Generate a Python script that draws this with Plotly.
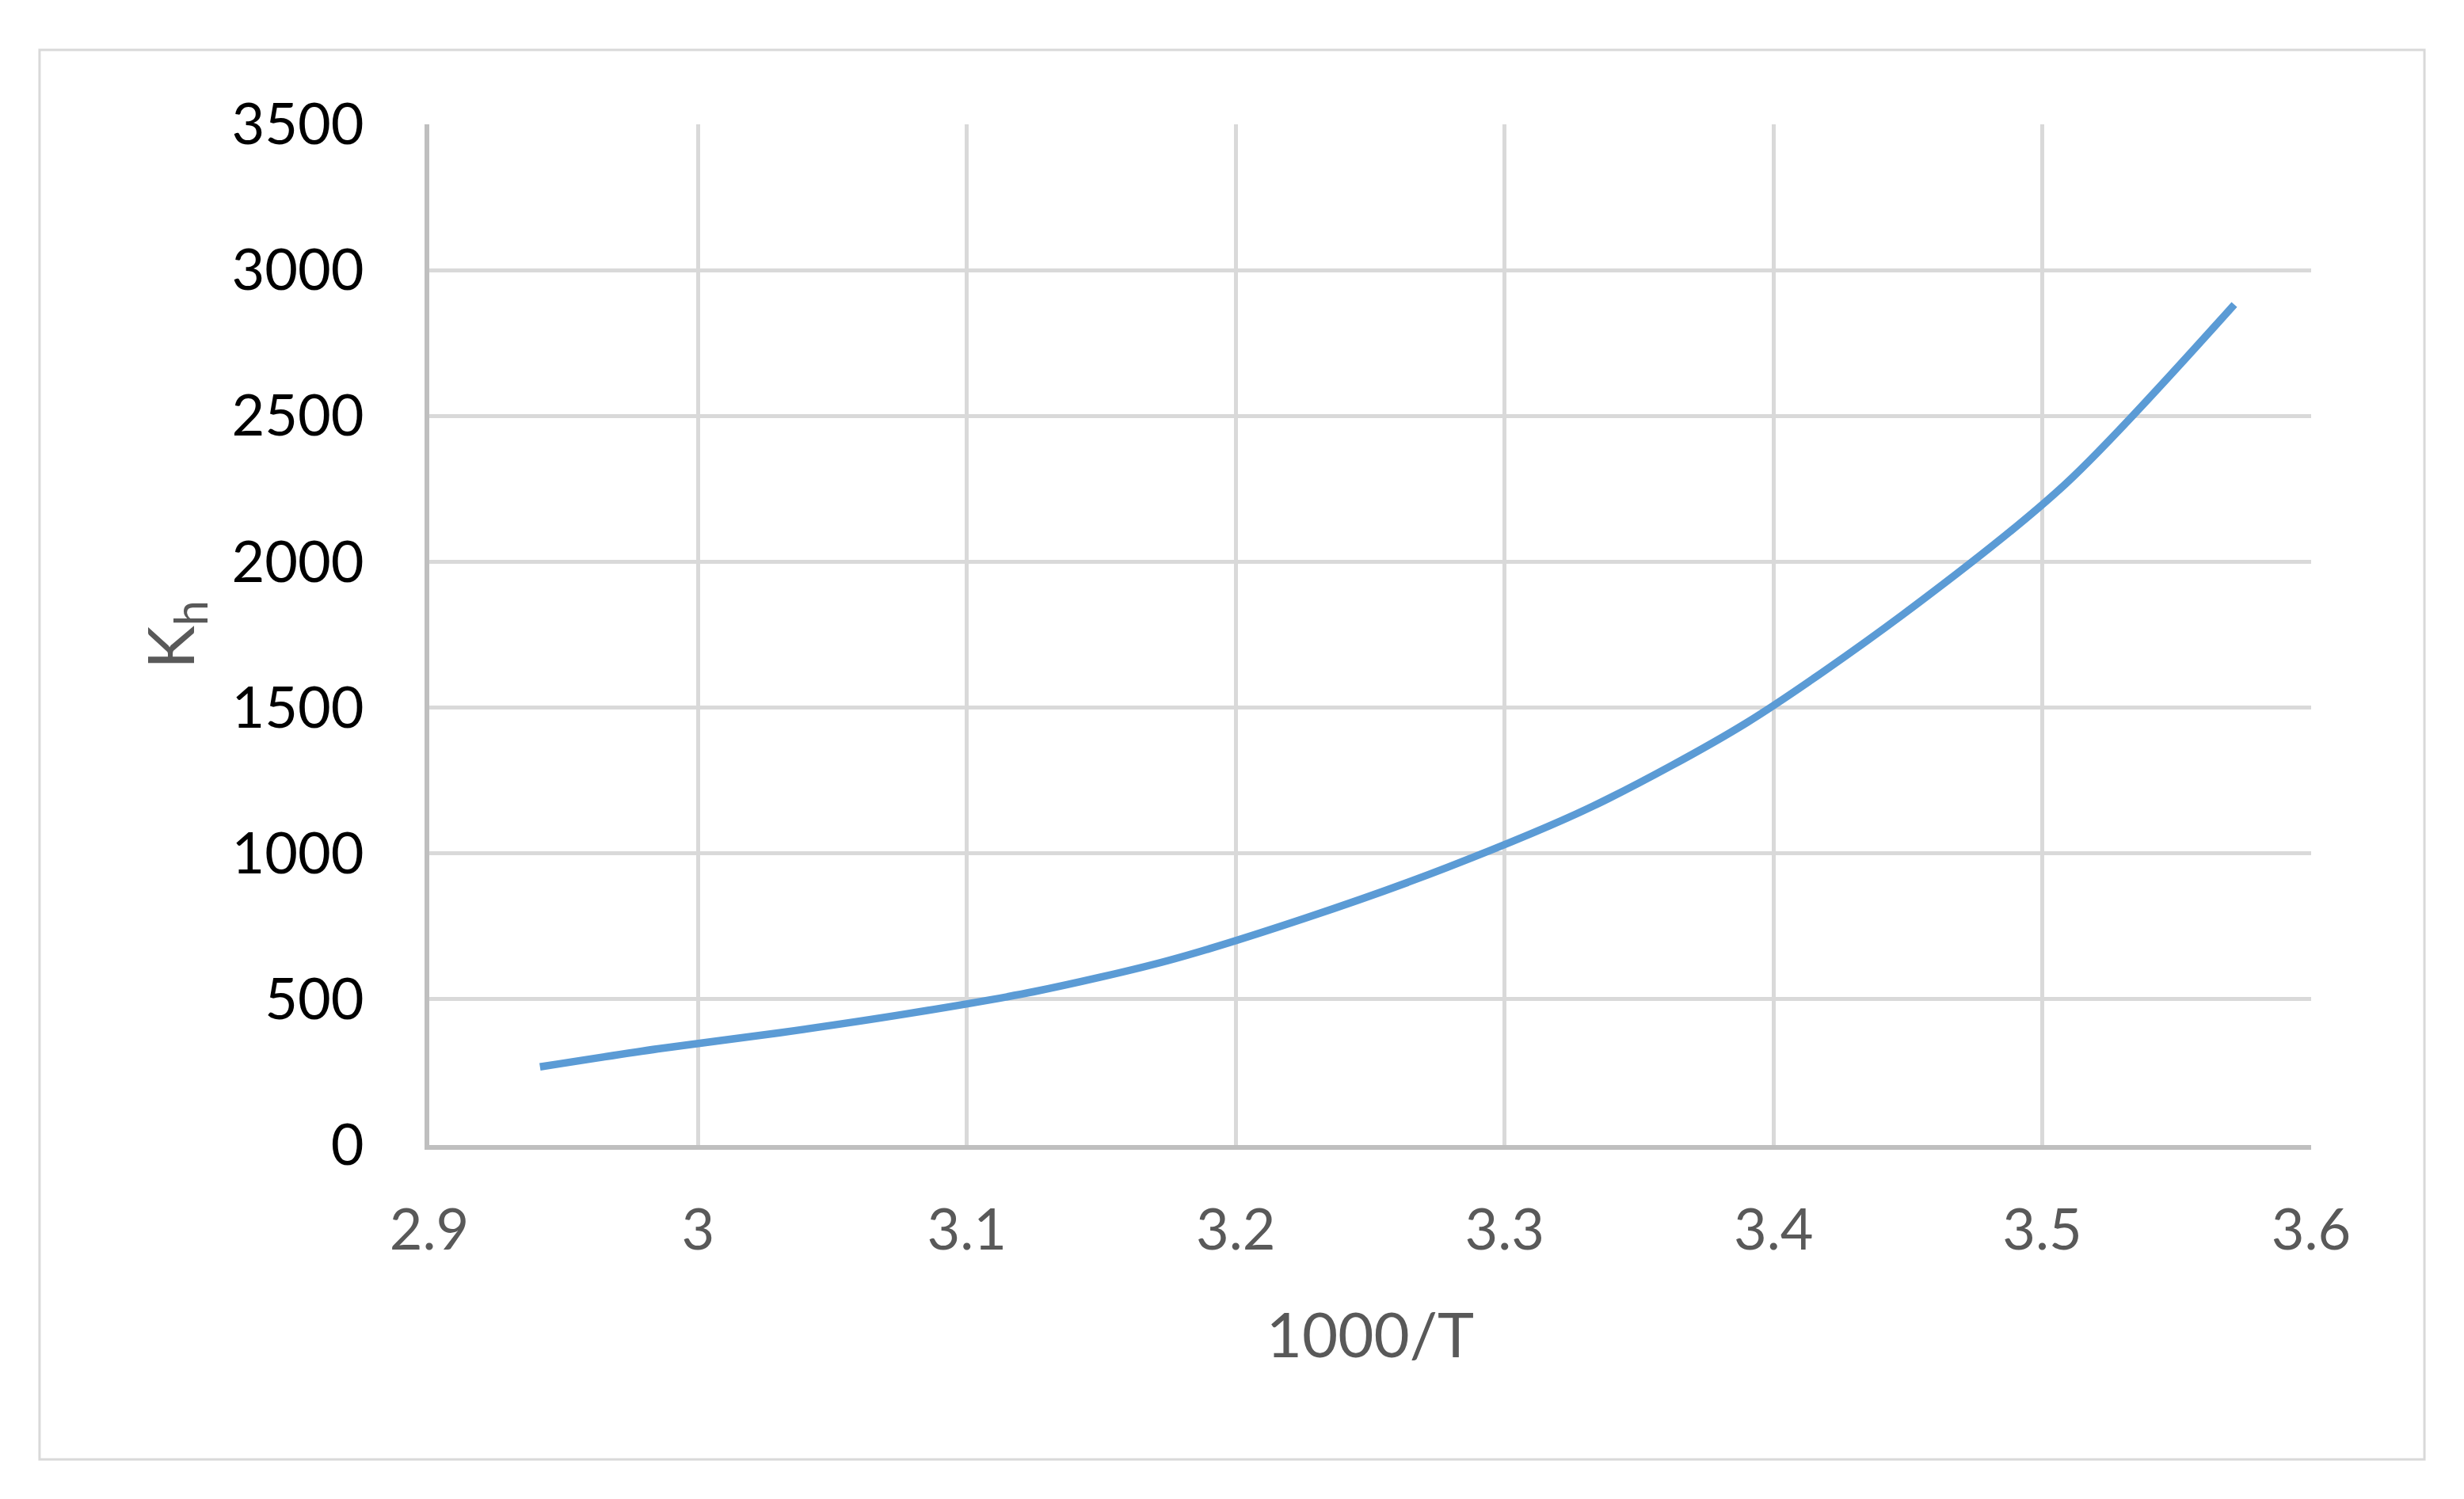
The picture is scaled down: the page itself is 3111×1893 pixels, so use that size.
import plotly.graph_objects as go

# 1000/T for T = 340 ... 280 K, step 5 K
temps = [340, 335, 330, 325, 320, 315, 310, 305, 300, 295, 290, 285, 280]
inv_t = [1000 / t for t in temps]
kh = [268, 330, 385, 449, 526, 632, 778, 952, 1164, 1447, 1820, 2268, 2882]

x_ticks = [2.9, 3.0, 3.1, 3.2, 3.3, 3.4, 3.5, 3.6]
x_ticktext = ["2.9", "3", "3.1", "3.2", "3.3", "3.4", "3.5", "3.6"]
y_ticks = [0, 500, 1000, 1500, 2000, 2500, 3000, 3500]

FONT = "Lato, 'Open Sans', sans-serif"
GRID = "#d9d9d9"
AXIS = "#bfbfbf"
TXT = "#595959"

fig = go.Figure()
fig.add_trace(go.Scatter(x=inv_t, y=kh, mode="lines",
                         line=dict(color="#5b9bd5", width=9.5,
                                   shape="spline", smoothing=0.8),
                         showlegend=False))

# page body offsets the figure a little, margins compensate
fig.update_layout(
    width=3111, height=1893,
    margin=dict(l=534, r=201, t=149, b=455, autoexpand=False),
    paper_bgcolor="white", plot_bgcolor="white",
    font=dict(family=FONT, size=72, color=TXT),
    xaxis=dict(range=[2.9, 3.6], tickvals=x_ticks, ticktext=x_ticktext,
               showgrid=True, gridcolor=GRID, gridwidth=5,
               showline=True, linecolor=AXIS, linewidth=6,
               zeroline=False, ticks="", ticklabelstandoff=40,
               automargin=False,
               tickfont=dict(size=72, color=TXT),
               title=dict(text="1000/T", font=dict(size=78, color=TXT), standoff=69)),
    yaxis=dict(range=[0, 3500], tickvals=y_ticks,
               showgrid=True, gridcolor=GRID, gridwidth=5,
               showline=True, linecolor=AXIS, linewidth=6,
               zeroline=False, ticks="", ticklabelstandoff=62,
               automargin=False,
               tickfont=dict(size=72, color="#000000"),
               title=dict(text="K<sub>h</sub>", font=dict(size=82, color=TXT), standoff=22)),
)

# outer chart border
fig.add_shape(type="rect", xref="paper", yref="paper",
              x0=-0.2071, x1=1.0602, y0=-0.308, y1=1.0729,
              line=dict(color=GRID, width=3), layer="below")

fig.write_html("out.html")
